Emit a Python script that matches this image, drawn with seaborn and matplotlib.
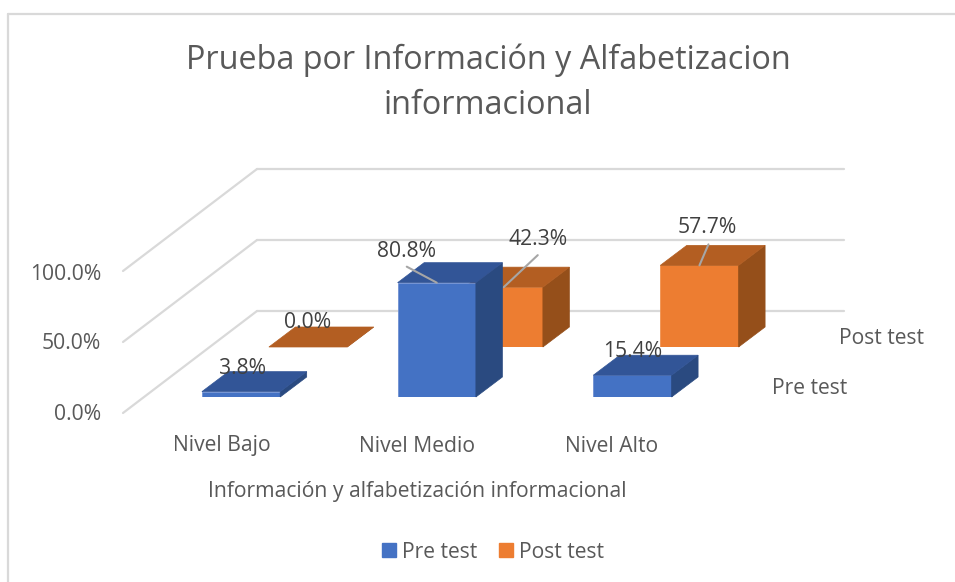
import pandas as pd
import seaborn as sns
import matplotlib
matplotlib.use("Agg")
import matplotlib.pyplot as plt
from matplotlib.lines import Line2D
from matplotlib.patches import Patch, Polygon
from matplotlib.transforms import IdentityTransform

# values
niveles = ["Nivel Bajo", "Nivel Medio", "Nivel Alto"]
pre_test = [3.8, 80.8, 15.4]
post_test = [0.0, 42.3, 57.7]
y_ticks = [0, 50, 100]
y_tick_labels = ["0.0%", "50.0%", "100.0%"]

W, H = 955, 582
DEPTH = (26.5, 20)  # depth of the 3d look, in pixels
FS = 15.2

sns.set_theme(style="white")
plt.rcParams['font.family'] = ['Open Sans', 'DejaVu Sans']

GREY = "#595959"
GRID = "#d9d9d9"
BLUE = ("#4472c4", "#325597", "#2a4a80", "#6f90d2")  # front, top, side, edge
ORANGE = ("#ed7d31", "#b35e22", "#954f1a", "#f0914f")

df = pd.DataFrame({
    "nivel": niveles * 2,
    "valor": pre_test + post_test,
    "serie": ["Pre test"] * 3 + ["Post test"] * 3,
})

fig = plt.figure(figsize=(W / 100, H / 100), dpi=100, facecolor="white")


def px_axes(left, top, right, bottom, z):
    ax = fig.add_axes([left / W, 1 - bottom / H, (right - left) / W, (bottom - top) / H], zorder=z)
    ax.patch.set_visible(False)
    sns.despine(ax=ax, left=True, bottom=True)
    return ax


def px_text(x, y, s, size=FS, ha="center"):
    fig.text(x / W, 1 - y / H, s, fontsize=size, color=GREY, ha=ha, va="center")


def px_line(x, y, color=GRID, lw=1.6):
    fig.add_artist(Line2D([v / W for v in x], [1 - v / H for v in y], color=color, lw=lw))


# chart frame
px_line([7.5, 7.5], [582, 13.5])
px_line([7.5, 955], [13.5, 13.5])

px_text(488, 60, "Prueba por Información y Alfabetizacion", size=23.3)
px_text(488, 105, "informacional", size=23.3)

# back wall with the gridlines, the slanted part runs to the front edge
wall = px_axes(257, 169, 844, 311, 1)
wall.set_xlim(0, 1)
wall.set_ylim(0, 100)
wall.set_xticks([])
wall.set_yticks(y_ticks)
wall.set_yticklabels([])
wall.tick_params(length=0)
wall.grid(axis="y", color=GRID, lw=1.6)
for line in wall.get_ygridlines():
    line.set_clip_on(False)
for t, lab, nudge in zip(y_ticks, y_tick_labels, (2, 1.5, 3)):
    x0, y0 = wall.transData.transform((0, t))
    wall.add_artist(Line2D([x0, x0 - 134], [y0, y0 - 102], color=GRID, lw=1.6,
                           transform=IdentityTransform(), clip_on=False))
    px_text(101, H - (y0 - 102) + nudge, lab, ha="right")


def draw_series(name, colors, ax):
    sns.barplot(data=df[df.serie == name], x="nivel", y="valor", color=colors[0],
                width=0.4, saturation=1, edgecolor=colors[3], linewidth=0.6, ax=ax)
    ax.set_xlim(-0.5, 2.5)
    ax.set_ylim(0, 100)
    ax.set_xlabel("")
    ax.set_ylabel("")
    ax.set_xticks([])
    ax.set_yticks([])
    dx, dy = DEPTH
    for bar in ax.patches:
        (x0, y0) = ax.transData.transform((bar.get_x(), 0))
        (x1, y1) = ax.transData.transform((bar.get_x() + bar.get_width(), bar.get_height()))
        top = [(x0, y1), (x1, y1), (x1 + dx, y1 + dy), (x0 + dx, y1 + dy)]
        side = [(x1, y0), (x1, y1), (x1 + dx, y1 + dy), (x1 + dx, y0 + dy)]
        for pts, col in ((side, colors[2]), (top, colors[1])):
            ax.add_artist(Polygon(pts, closed=True, facecolor=col, edgecolor=col, lw=0.5,
                                  transform=IdentityTransform(), clip_on=False))


# one axes per row of bars, the post test row sits further back
SCALE = 141.5
ax_post = px_axes(143.2 + 67, 397 - 50 - SCALE, 730.3 + 67, 397 - 50, 2)
ax_pre = px_axes(143.2, 397 - SCALE, 730.3, 397, 3)
draw_series("Post test", ORANGE, ax_post)
draw_series("Pre test", BLUE, ax_pre)


def bar_label(ax, i, value, text_off, line_off=None):
    xy = (i, value)
    if line_off is not None:
        ax.annotate("", xy=xy, xytext=line_off, textcoords="offset pixels",
                    arrowprops=dict(arrowstyle="-", color="#a6a6a6", lw=1.5, shrinkA=0, shrinkB=0))
    ax.annotate(f"{value:.1f}%", xy=xy, xytext=text_off, textcoords="offset pixels",
                ha="center", va="center", fontsize=FS, color="#404040", annotation_clip=False)


bar_label(ax_pre, 0, pre_test[0], (1, 23))
bar_label(ax_pre, 1, pre_test[1], (-30, 31), (-30, 16))
bar_label(ax_pre, 2, pre_test[2], (0, 24))
bar_label(ax_post, 0, post_test[0], (0, 25))
bar_label(ax_post, 1, post_test[1], (34, 48), (34, 32))
bar_label(ax_post, 2, post_test[2], (8, 38), (9, 21))

for x, lab in zip((222, 417, 612), niveles):
    px_text(x, 446, lab)
px_text(417, 491, "Información y alfabetización informacional")
px_text(839, 338, "Post test", ha="left")
px_text(772, 389, "Pre test", ha="left")

handles = [Patch(color=BLUE[0], label="Pre test"), Patch(color=ORANGE[0], label="Post test")]
fig.legend(handles=handles, ncol=2, loc="center", bbox_to_anchor=(493 / W, 1 - 552 / H),
           frameon=False, fontsize=FS, labelcolor=GREY, handlelength=0.67, handleheight=0.67,
           handletextpad=0.29, columnspacing=1.05)

fig.savefig("out.png", dpi=100)
